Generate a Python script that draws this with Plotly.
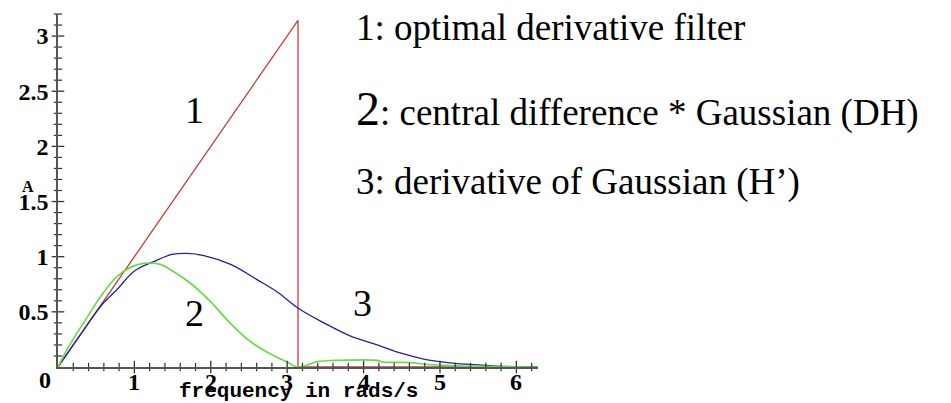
import numpy as np
import plotly.graph_objects as go

# Magnitude responses of three derivative filters over 0..2*pi
PI = np.pi

# 1: optimal derivative filter (ideal ramp, cut off at pi)
opt_x = [0.0, PI, PI, 2 * PI]
opt_y = [0.0, PI, 0.0, 0.0]

# 2: central difference * Gaussian (DH)
dh_x = [0.0, 0.14, 0.40, 0.57, 0.77, 0.97, 1.12, 1.34, 1.50, 1.75, 2.0,
        2.25, 2.50, 2.75, 3.0, PI, 3.40, 3.62, 4.18, 4.25, 4.62, 4.8, 5.06,
        5.5, 2 * PI]
dh_y = [0.0, 0.185, 0.47, 0.65, 0.82, 0.91, 0.94, 0.93, 0.87, 0.75, 0.59,
        0.40, 0.24, 0.13, 0.045, 0.0, 0.05, 0.06, 0.06, 0.045, 0.04, 0.025, 0.015,
        0.005, 0.0]

# 3: derivative of Gaussian (H')
dg_x = [0.0, 0.14, 0.30, 0.57, 0.77, 1.0, 1.27, 1.49, 1.69, 1.91, 2.26, 2.61,
        2.87, 3.15, 3.48, 3.83, 4.18, 4.49, 4.8, 4.97, 5.23, 5.5, 5.76, 6.0,
        2 * PI]
dg_y = [0.0, 0.14, 0.30, 0.56, 0.70, 0.87, 0.96, 1.02, 1.03, 1.01, 0.93, 0.79,
        0.68, 0.53, 0.40, 0.28, 0.20, 0.125, 0.07, 0.05, 0.03, 0.02, 0.008, 0.003,
        0.0]

x_major = [1, 2, 3, 4, 5, 6]
y_major = [0.5, 1, 1.5, 2, 2.5, 3]
y_major_text = ["0.5", "1", "1.5", "2", "2.5", "3"]
x_minor = [round(0.2 * i, 1) for i in range(1, 32) if i % 5 != 0]
y_minor = [round(0.1 * i, 1) for i in range(1, 33) if i % 5 != 0]

legend_lines = [
    "1: optimal derivative filter",
    "<span style='font-size:48px'>2</span>: central difference * Gaussian (DH)",
    "3: derivative of Gaussian (H\u2019)",
]
legend_y = [0.963, 0.732, 0.525]
curve_labels = [("1", 1.79, 2.33), ("2", 1.79, 0.49), ("3", 3.98, 0.58)]

SERIF = "Liberation Serif"
TICK_FONT = dict(family=SERIF, size=24, color="black", weight="bold")
TICK_COLOR = "#333333"

fig = go.Figure()

fig.add_trace(go.Scatter(x=opt_x, y=opt_y, mode="lines",
                         line=dict(color="#c83a3a", width=1.3)))
fig.add_trace(go.Scatter(x=dg_x, y=dg_y, mode="lines", line_shape="spline",
                         line=dict(color="#22229a", width=1.3)))
fig.add_trace(go.Scatter(x=dh_x, y=dh_y, mode="lines", line_shape="spline",
                         line=dict(color="#66dd44", width=1.7)))

# tick marks that straddle the axis lines
fig.add_trace(go.Scatter(x=x_major, y=[0] * len(x_major), mode="markers",
                         cliponaxis=False,
                         marker=dict(symbol="line-ns", size=9,
                                     line=dict(color=TICK_COLOR, width=1.3))))
fig.add_trace(go.Scatter(x=x_minor, y=[0] * len(x_minor), mode="markers",
                         cliponaxis=False,
                         marker=dict(symbol="line-ns", size=6,
                                     line=dict(color=TICK_COLOR, width=1.2))))
fig.add_trace(go.Scatter(x=[0] * len(y_major), y=y_major, mode="markers",
                         cliponaxis=False,
                         marker=dict(symbol="line-ew", size=9,
                                     line=dict(color=TICK_COLOR, width=1.3))))
fig.add_trace(go.Scatter(x=[0] * len(y_minor), y=y_minor, mode="markers",
                         cliponaxis=False,
                         marker=dict(symbol="line-ew", size=6,
                                     line=dict(color=TICK_COLOR, width=1.2))))

fig.update_xaxes(range=[0, 2 * PI], showgrid=False, zeroline=False,
                 automargin=False, showticklabels=False, ticks="",
                 showline=True, linecolor="#555555", linewidth=1.6)
fig.update_yaxes(range=[0, 3.2], showgrid=False, zeroline=False,
                 automargin=False,
                 showline=True, linecolor="#555555", linewidth=1.6,
                 tickmode="array", tickvals=y_major, ticktext=y_major_text,
                 ticks="", ticklabelstandoff=3, tickfont=TICK_FONT)

annotations = []
# x tick labels sit close under the axis line
for v in x_major:
    annotations.append(dict(x=v, y=0, xref="x", yref="y", text=str(v),
                            showarrow=False, yanchor="middle", yshift=-15,
                            font=TICK_FONT))
annotations.append(dict(x=0, y=0, xref="x", yref="y", text="0", showarrow=False,
                        yanchor="middle", xshift=-13, yshift=-13, font=TICK_FONT))
annotations.append(dict(x=0, y=1.5, xref="x", yref="y", text="A", showarrow=False,
                        xshift=-30, yshift=15,
                        font=dict(family=SERIF, size=16, color="black",
                                  weight="bold")))
annotations.append(dict(x=0.5, y=0, xref="paper", yref="paper",
                        text="frequency in rads/s", showarrow=False,
                        yanchor="middle", yshift=-24,
                        font=dict(family="Liberation Mono", size=21,
                                  color="black", weight="bold")))
for txt, lx, ly in curve_labels:
    annotations.append(dict(x=lx, y=ly, xref="x", yref="y", text=txt,
                            showarrow=False,
                            font=dict(family=SERIF, size=38, color="black")))
for line, ly in zip(legend_lines, legend_y):
    annotations.append(dict(x=0.617, y=ly, xref="paper",
                            yref="paper", text=line, showarrow=False,
                            xanchor="left", yanchor="middle",
                            font=dict(family=SERIF, size=37, color="black")))

fig.update_layout(width=951, height=403,
                  margin=dict(l=58, r=413, t=14, b=36),
                  paper_bgcolor="white", plot_bgcolor="white",
                  showlegend=False, annotations=annotations)

fig.write_html("out.html")
